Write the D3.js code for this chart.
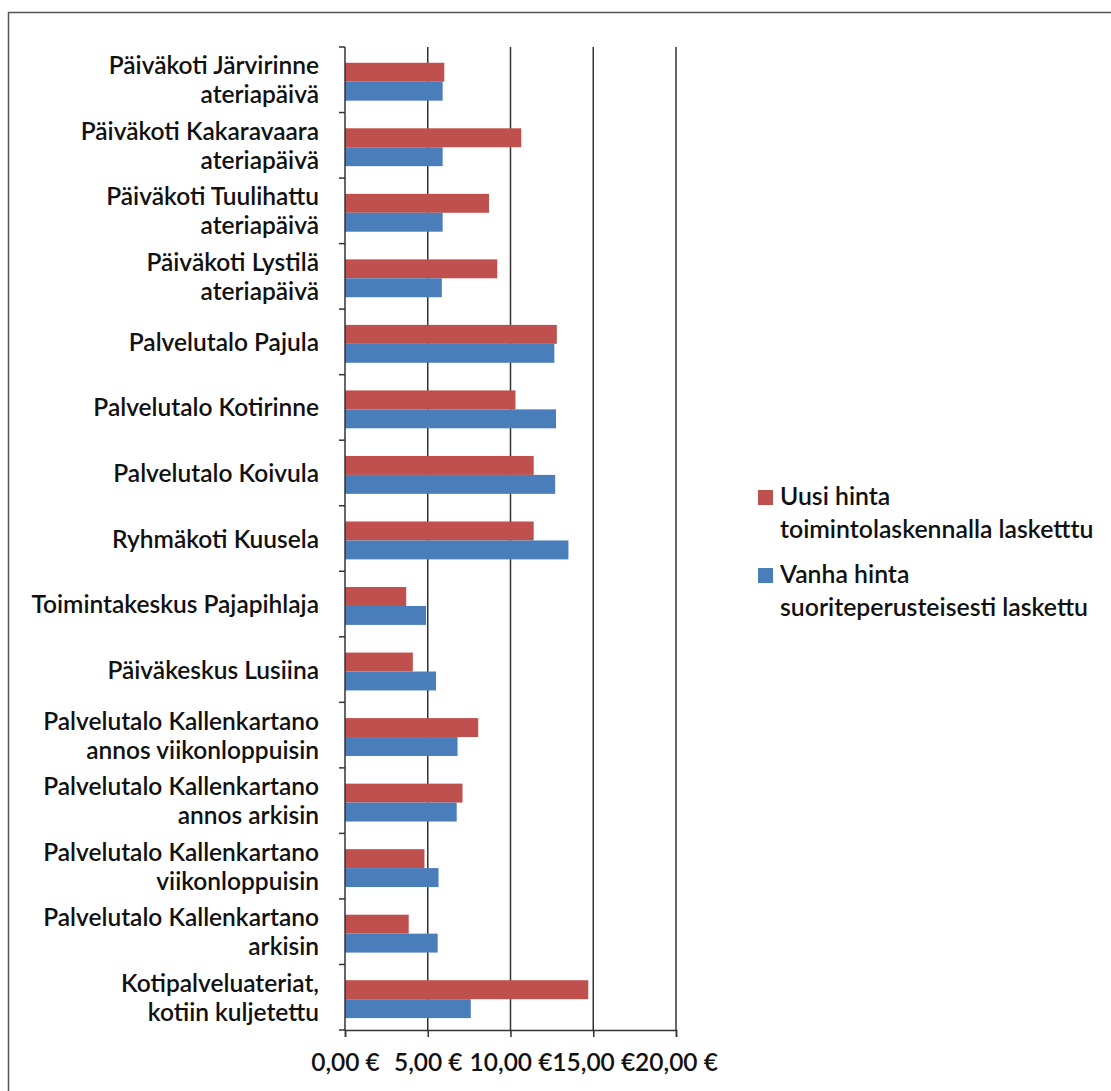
<!DOCTYPE html>
<html>
<head>
<meta charset="utf-8">
<script src="https://cdn.jsdelivr.net/npm/d3@7"></script>
<style>
  body { margin: 0; background: #fff; }
  text { font-family: Lato, "Open Sans", sans-serif; fill: #111; font-weight: 600; }
</style>
</head>
<body>
<div class="chart"></div>
<script>
// categories from top to bottom, each entry is a list of label lines
const categories = [
    ["Päiväkoti Järvirinne", "ateriapäivä"],
    ["Päiväkoti Kakaravaara", "ateriapäivä"],
    ["Päiväkoti Tuulihattu", "ateriapäivä"],
    ["Päiväkoti Lystilä", "ateriapäivä"],
    ["Palvelutalo Pajula"],
    ["Palvelutalo Kotirinne"],
    ["Palvelutalo Koivula"],
    ["Ryhmäkoti Kuusela"],
    ["Toimintakeskus Pajapihlaja"],
    ["Päiväkeskus Lusiina"],
    ["Palvelutalo Kallenkartano", "annos viikonloppuisin"],
    ["Palvelutalo Kallenkartano", "annos arkisin"],
    ["Palvelutalo Kallenkartano", "viikonloppuisin"],
    ["Palvelutalo Kallenkartano", "arkisin"],
    ["Kotipalveluateriat,", "kotiin kuljetettu"]
];
const uusiHinta = [6.0, 10.65, 8.7, 9.2, 12.8, 10.3, 11.4, 11.4, 3.7, 4.1, 8.05, 7.1, 4.8, 3.85, 14.7];
const vanhaHinta = [5.9, 5.9, 5.9, 5.85, 12.65, 12.75, 12.7, 13.5, 4.9, 5.5, 6.8, 6.75, 5.65, 5.6, 7.6];
const xTicks = [0, 5, 10, 15, 20];
const seriesNames = [
    ["Uusi hinta", "toimintolaskennalla lasketttu"],
    ["Vanha hinta", "suoriteperusteisesti laskettu"]
];
const colors = ["#c0504d", "#4a7ebb"];

const W = 1111, H = 1091;
const plot = { left: 345, top: 47, right: 676, bottom: 1030 };

const svg = d3.select(".chart").append("svg")
    .attr("width", W).attr("height", H);

// outer frame
svg.append("rect")
    .attr("x", 8.5).attr("y", 12.5)
    .attr("width", W + 20).attr("height", H + 20)
    .attr("fill", "none").attr("stroke", "#555").attr("stroke-width", 1.5);

const x = d3.scaleLinear().domain([0, 20]).range([plot.left, plot.right]);
const y = d3.scaleBand().domain(d3.range(categories.length))
    .range([plot.top, plot.bottom]);
const inner = d3.scaleBand().domain([0, 1])
    .range([0, y.bandwidth()]).paddingOuter(0.73).align(0.57);

// gridlines
svg.append("g").selectAll("line")
    .data(xTicks.slice(1))
    .enter().append("line")
    .attr("x1", d => x(d)).attr("x2", d => x(d))
    .attr("y1", plot.top).attr("y2", plot.bottom)
    .attr("stroke", "#333").attr("stroke-width", 1.5);

// bars
const rows = categories.map((c, i) => ({ i: i, vals: [uusiHinta[i], vanhaHinta[i]] }));
const g = svg.append("g").selectAll("g")
    .data(rows).enter().append("g")
    .attr("transform", d => "translate(0," + y(d.i) + ")");
g.selectAll("rect")
    .data(d => d.vals.map((v, k) => ({ v: v, k: k })))
    .enter().append("rect")
    .attr("x", x(0))
    .attr("y", d => inner(d.k))
    .attr("width", d => x(d.v) - x(0))
    .attr("height", inner.bandwidth())
    .attr("fill", d => colors[d.k]);

// y axis
svg.append("line")
    .attr("x1", x(0)).attr("x2", x(0))
    .attr("y1", plot.top).attr("y2", plot.bottom)
    .attr("stroke", "#333").attr("stroke-width", 1.5);
svg.append("g").selectAll("line")
    .data(d3.range(categories.length + 1))
    .enter().append("line")
    .attr("x1", x(0) - 6).attr("x2", x(0))
    .attr("y1", d => plot.top + d * y.step())
    .attr("y2", d => plot.top + d * y.step())
    .attr("stroke", "#333").attr("stroke-width", 1.5);

// category labels
const lab = svg.append("g").selectAll("text")
    .data(categories).enter().append("text")
    .attr("text-anchor", "end")
    .attr("font-size", 24.5)
    .attr("transform", (d, i) => "translate(319," + (y(i) + y.bandwidth() / 2) + ")");
lab.selectAll("tspan")
    .data(d => d.map((t, k) => ({ t: t, k: k, n: d.length })))
    .enter().append("tspan")
    .attr("x", 0)
    .attr("y", d => (d.k - (d.n - 1) / 2) * 29 + 9)
    .text(d => d.t);

// x axis
const xAxis = svg.append("g")
    .attr("transform", "translate(0," + plot.bottom + ")")
    .call(d3.axisBottom(x).tickValues(xTicks).tickSize(7).tickPadding(17)
        .tickFormat(d => d3.format(".2f")(d).replace(".", ",") + " €"));
xAxis.select(".domain").attr("stroke", "#333").attr("stroke-width", 1.5);
xAxis.selectAll(".tick line").attr("stroke", "#333").attr("stroke-width", 1.5);
xAxis.selectAll(".tick text")
    .attr("font-family", "Lato, sans-serif")
    .attr("font-size", 24.5).attr("fill", "#111");

// legend
const leg = svg.append("g").selectAll("g")
    .data(seriesNames).enter().append("g")
    .attr("transform", (d, i) => "translate(758," + (490 + i * 78) + ")");
leg.append("rect")
    .attr("width", 15).attr("height", 15)
    .attr("fill", (d, i) => colors[i]);
leg.append("text")
    .attr("font-size", 24.8)
    .selectAll("tspan")
    .data(d => d).enter().append("tspan")
    .attr("x", 22)
    .attr("y", (d, k) => 15 + k * 33)
    .text(d => d);
</script>
</body>
</html>
